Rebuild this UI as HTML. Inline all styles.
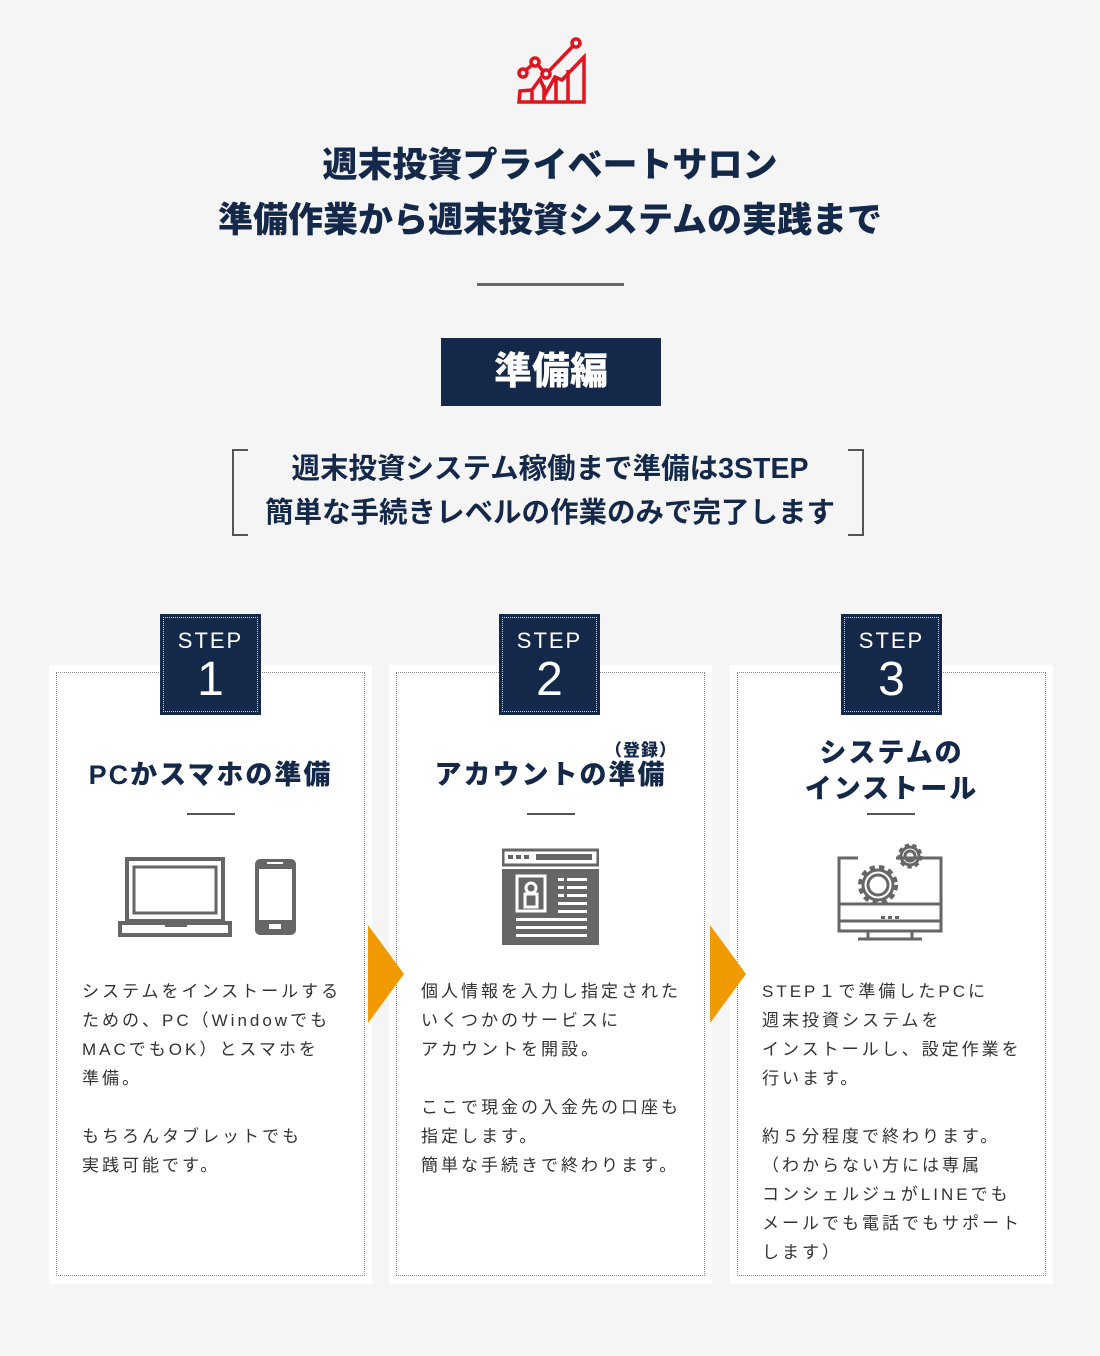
<!DOCTYPE html>
<html><head><meta charset="utf-8"><style>
*{margin:0;padding:0;box-sizing:border-box}
body{width:1100px;height:1356px;background:#f5f5f5;position:relative;font-family:"Liberation Sans","Noto Sans CJK JP",sans-serif;color:#14294a;overflow:hidden}
.abs{position:absolute}
.t{position:absolute;left:0;width:1100px;text-align:center;font-weight:900}
.card{position:absolute;top:665px;width:323px;height:619px;background:#fff}
.card .in{position:absolute;left:7px;top:7px;right:7px;bottom:8px;border:1px dotted #888}
.badge{position:absolute;top:614px;width:101px;height:101px;background:#14294a;color:#fff;text-align:center}
.badge .d{position:absolute;inset:3px;border:1px dotted #cfd6e2}
.badge .s{position:absolute;top:14px;width:100%;font-size:22px;letter-spacing:2px}
.badge .n{position:absolute;top:38px;width:100%;font-size:48px;line-height:56px}
.h{position:absolute;width:323px;text-align:center;font-size:27px;font-weight:900;letter-spacing:2px;line-height:36px}
.hr{position:absolute;width:48px;height:2px;background:#555;top:813px}
.p{position:absolute;font-size:17px;letter-spacing:3px;line-height:29px;color:#333}
.arr{position:absolute;top:925px;width:0;height:0;border-top:49px solid transparent;border-bottom:49px solid transparent;border-left:36px solid #f09a00}
</style></head><body>
<svg class="abs" style="left:514px;top:35px" width="72" height="70" viewBox="0 0 72 70" fill="none" stroke="#e0141e" stroke-width="3.5">
<path d="M5 67H70V22L48 45 41 42 32 58 26 44 18 55 6 56Z"/>
<path d="M18 56V66M30 50V66M42 44V66M54 35V66"/>
<circle cx="9" cy="38" r="4"/><circle cx="21" cy="27" r="4"/><circle cx="32" cy="39" r="4"/><circle cx="62" cy="8" r="4"/>
<path d="M12 35L18 30M24 30L29 36M35 36L59 11"/>
</svg>
<div class="t" style="top:143px;font-size:35px;line-height:46px">週末投資プライベートサロン</div>
<div class="t" style="top:198px;font-size:35px;line-height:46px">準備作業から週末投資システムの実践まで</div>
<div class="abs" style="left:477px;top:283px;width:147px;height:3px;background:#666"></div>
<div class="abs" style="left:441px;top:338px;width:220px;height:68px;background:#14294a;color:#fff;text-align:center;font-size:38px;font-weight:900;line-height:68px">準備編</div>
<div class="abs" style="left:232px;top:449px;width:16px;height:87px;border:2px solid #555;border-right:none"></div>
<div class="abs" style="left:848px;top:449px;width:16px;height:87px;border:2px solid #555;border-left:none"></div>
<div class="t" style="top:449px;font-size:28.5px;line-height:40px;font-weight:700">週末投資システム稼働まで準備は3STEP</div>
<div class="t" style="top:493px;font-size:28.5px;line-height:40px;font-weight:700">簡単な手続きレベルの作業のみで完了します</div>

<div class="card" style="left:49px"><div class="in"></div></div>
<div class="card" style="left:389px"><div class="in"></div></div>
<div class="card" style="left:730px"><div class="in"></div></div>
<div class="arr" style="left:368px"></div>
<div class="arr" style="left:710px"></div>

<div class="badge" style="left:160px"><div class="d"></div><div class="s">STEP</div><div class="n">1</div></div>
<div class="badge" style="left:499px"><div class="d"></div><div class="s">STEP</div><div class="n">2</div></div>
<div class="badge" style="left:841px"><div class="d"></div><div class="s">STEP</div><div class="n">3</div></div>

<div class="h" style="left:49px;top:757px">PCかスマホの準備</div>
<div class="abs" style="left:605px;top:736px;font-size:17px;font-weight:900;letter-spacing:1px">（登録）</div>
<div class="h" style="left:389px;top:757px">アカウントの準備</div>
<div class="h" style="left:730px;top:735px">システムの<br>インストール</div>
<div class="hr" style="left:187px"></div><div class="hr" style="left:527px"></div><div class="hr" style="left:867px"></div>

<svg class="abs" style="left:117px;top:856px" width="182" height="82" fill="none" stroke="#666">
<rect x="10" y="3" width="96" height="62" stroke-width="4"/><rect x="17" y="11" width="82" height="46" stroke-width="3"/>
<rect x="3" y="67" width="110" height="12" stroke-width="4"/><rect x="48" y="66" width="22" height="5" fill="#666" stroke="none"/>
<rect x="138" y="3" width="41" height="76" rx="5" fill="#666" stroke="none"/><rect x="142" y="13" width="33" height="51" fill="#fff" stroke="none"/>
<rect x="150" y="6" width="16" height="2" fill="#fff" stroke="none"/><rect x="152" y="68" width="12" height="5" fill="#fff" stroke="none"/>
</svg>
<svg class="abs" style="left:502px;top:848px" width="97" height="97">
<rect x="1" y="2" width="95" height="15" fill="none" stroke="#666" stroke-width="3"/>
<rect x="6" y="7" width="5" height="4" fill="#666"/><rect x="14" y="7" width="5" height="4" fill="#666"/><rect x="22" y="7" width="5" height="4" fill="#666"/><rect x="34" y="6" width="56" height="6" fill="#666"/>
<rect x="0" y="21" width="97" height="76" fill="#666"/>
<rect x="15" y="28" width="28" height="35" fill="none" stroke="#fff" stroke-width="3"/>
<circle cx="29" cy="40" r="5" fill="none" stroke="#fff" stroke-width="3"/><rect x="23" y="46" width="12" height="13" fill="none" stroke="#fff" stroke-width="3"/>
<g fill="#fff"><rect x="56" y="30" width="6" height="3"/><rect x="65" y="30" width="20" height="3"/><rect x="56" y="38" width="6" height="3"/><rect x="65" y="38" width="20" height="3"/><rect x="56" y="46" width="6" height="3"/><rect x="65" y="46" width="20" height="3"/><rect x="56" y="54" width="29" height="3"/><rect x="56" y="62" width="29" height="3"/><rect x="14" y="70" width="71" height="3"/><rect x="14" y="78" width="71" height="3"/><rect x="14" y="86" width="71" height="3"/></g>
</svg>
<svg class="abs" style="left:836px;top:841px" width="110" height="100" fill="none" stroke="#666" stroke-width="3">
<path d="M60 17H105V90H3V17H22"/><path d="M3 63H105M3 80H105M32 90V98M76 90V98M22 98H86"/>
<circle cx="42" cy="44" r="10"/><circle cx="42" cy="44" r="17" stroke-width="6" stroke-dasharray="5 4"/><circle cx="42" cy="44" r="15"/>
<circle cx="74" cy="15" r="5"/><circle cx="74" cy="15" r="10" stroke-width="5" stroke-dasharray="4 3"/><circle cx="74" cy="15" r="9"/>
<g fill="#666" stroke="none"><rect x="45" y="75" width="4" height="3"/><rect x="52" y="75" width="4" height="3"/><rect x="59" y="75" width="4" height="3"/></g>
</svg>

<div class="p" style="left:82px;top:977px">システムをインストールする<br>ための、PC（Windowでも<br>MACでもOK）とスマホを<br>準備。<br><br>もちろんタブレットでも<br>実践可能です。</div>
<div class="p" style="left:421px;top:977px">個人情報を入力し指定された<br>いくつかのサービスに<br>アカウントを開設。<br><br>ここで現金の入金先の口座も<br>指定します。<br>簡単な手続きで終わります。</div>
<div class="p" style="left:762px;top:977px">STEP１で準備したPCに<br>週末投資システムを<br>インストールし、設定作業を<br>行います。<br><br>約５分程度で終わります。<br>（わからない方には専属<br>コンシェルジュがLINEでも<br>メールでも電話でもサポート<br>します）</div>
</body></html>
